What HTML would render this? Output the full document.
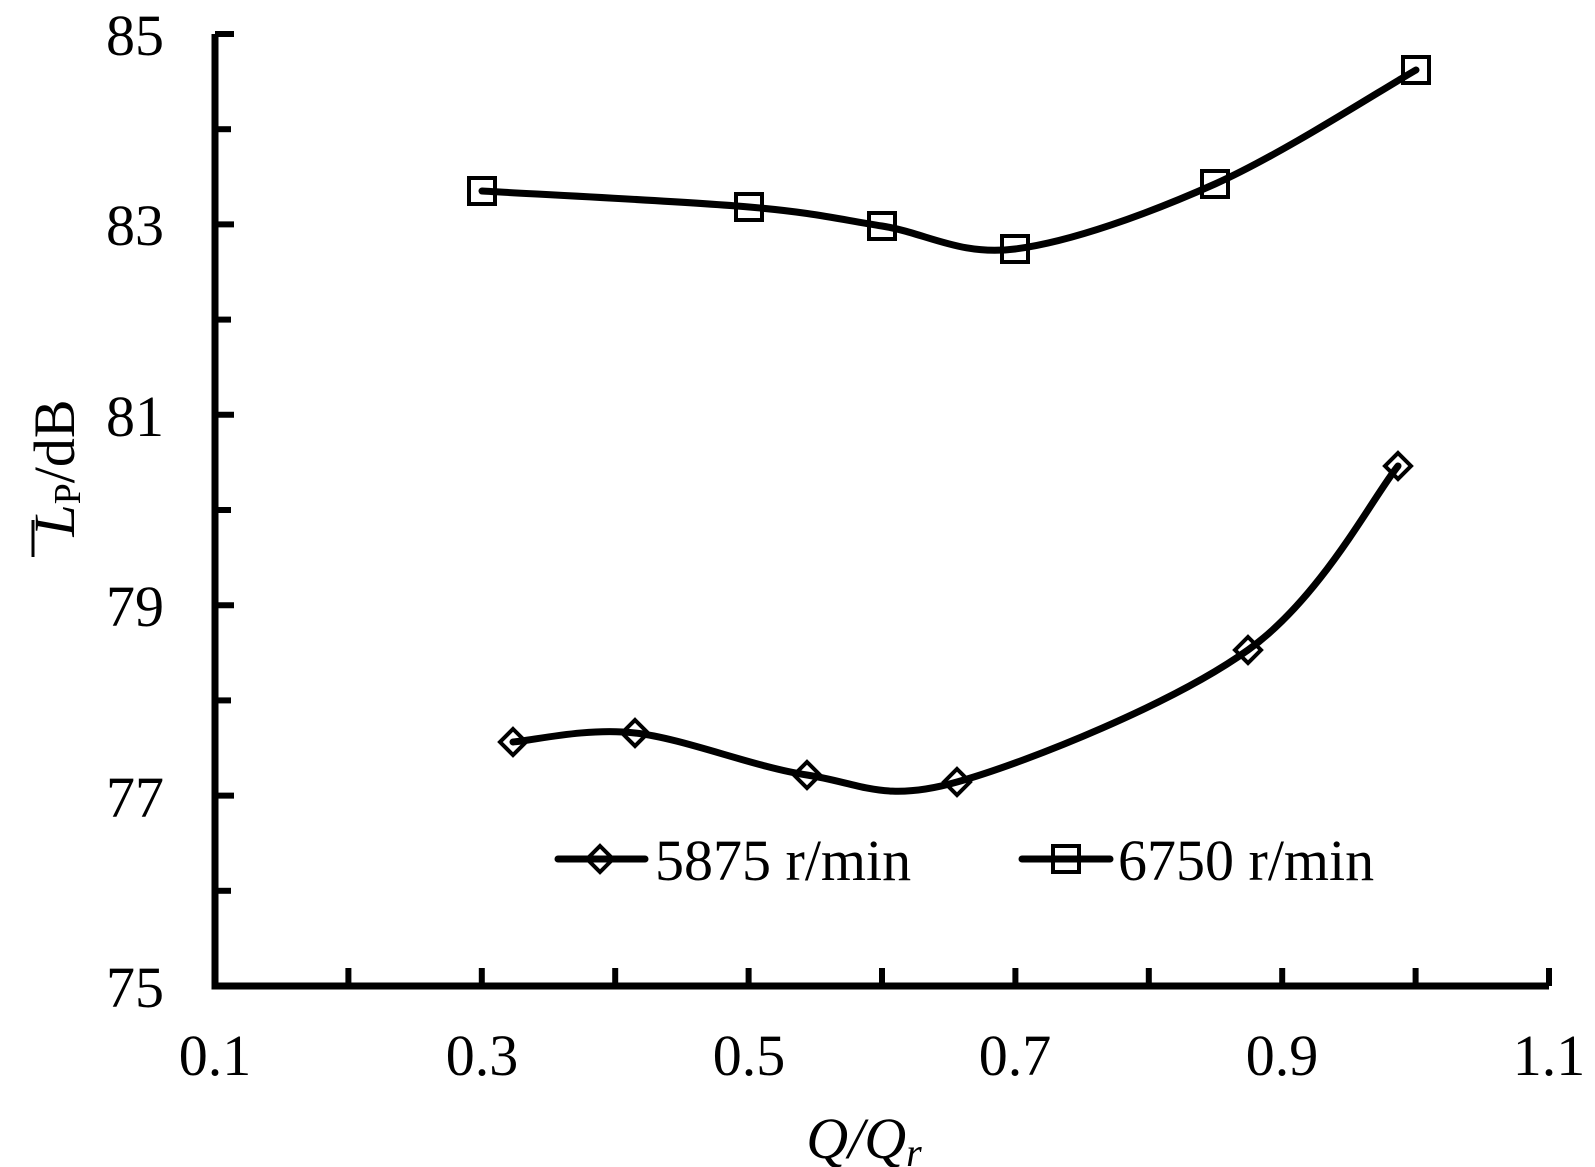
<!DOCTYPE html>
<html><head><meta charset="utf-8"><style>
html,body{margin:0;padding:0;background:#fff;}
svg{display:block;font-family:"Liberation Serif",serif;}
</style></head><body>
<svg id="s" width="1595" height="1167" viewBox="0 0 1595 1167" xmlns="http://www.w3.org/2000/svg">
<g stroke="#000" stroke-width="7" fill="none">
<path d="M215 34 V986 H1549"/>
</g>
<g id="ticks" stroke="#000" stroke-width="6"></g>
<g font-size="58" fill="#000" text-anchor="end">
<text x="164" y="55">85</text>
<text x="164" y="245">83</text>
<text x="164" y="436">81</text>
<text x="164" y="626">79</text>
<text x="164" y="817">77</text>
<text x="164" y="1007">75</text>
</g>
<g font-size="58" fill="#000" text-anchor="middle">
<text x="215" y="1075">0.1</text>
<text x="482" y="1075">0.3</text>
<text x="749" y="1075">0.5</text>
<text x="1015" y="1075">0.7</text>
<text x="1282" y="1075">0.9</text>
<text x="1549" y="1075">1.1</text>
</g>
<text x="864" y="1158" font-size="58" text-anchor="middle" font-style="italic">Q/Q<tspan font-size="40" dy="8">r</tspan></text>
<g transform="translate(74,468) rotate(-90)">
<text x="0" y="0" font-size="58" text-anchor="middle"><tspan font-style="italic">L</tspan><tspan font-size="38" dy="6">P</tspan><tspan dy="-6">/dB</tspan></text>
<line x1="-89" y1="-41" x2="-52" y2="-41" stroke="#000" stroke-width="3"/>
</g>
<g id="curves" stroke="#000" stroke-width="7" fill="none" stroke-linecap="round"></g>
<g id="marks" stroke="#000" stroke-width="4" fill="none"></g>
<g stroke="#000" stroke-width="7" stroke-linecap="round">
<line x1="558" y1="859" x2="645" y2="859"/>
<line x1="1022" y1="859" x2="1110" y2="859"/>
</g>
<g stroke="#000" stroke-width="4" fill="none">
<path d="M600 846 L613 859 L600 872 L587 859 Z"/>
<rect x="1053" y="846" width="26" height="26"/>
</g>
<g font-size="58" fill="#000">
<text x="655" y="880">5875 r/min</text>
<text x="1118" y="880">6750 r/min</text>
</g>
</svg>
<script>
var NS="http://www.w3.org/2000/svg";
function el(t,a,p){var e=document.createElementNS(NS,t);for(var k in a)e.setAttribute(k,a[k]);document.getElementById(p).appendChild(e);}
for(var k=1;k<=10;k++){var x=215+133.4*k;el("line",{x1:x,y1:986,x2:x,y2:968},"ticks");}
for(var v=76;v<=85;v++){var y=34+(85-v)*95.2;el("line",{x1:215,y1:y,x2:(v%2?234:231),y2:y},"ticks");}
function path(P){var d="M"+P[0][0]+" "+P[0][1];for(var i=0;i<P.length-1;i++){var p0=P[i-1]||P[i],p1=P[i],p2=P[i+1],p3=P[i+2]||P[i+1];
var c1=[p1[0]+(p2[0]-p0[0])/6,p1[1]+(p2[1]-p0[1])/6],c2=[p2[0]-(p3[0]-p1[0])/6,p2[1]-(p3[1]-p1[1])/6];
d+=" C"+c1+" "+c2+" "+p2;}return d;}
var A=[[482,191],[749,207],[882,226],[1015,249],[1215,184],[1416,70]];
var B=[[513,742],[635,733],[807,775],[957,782],[1248,650],[1398,466]];
el("path",{d:path(A)},"curves");el("path",{d:path(B)},"curves");
A.forEach(function(p){el("rect",{x:p[0]-13,y:p[1]-13,width:26,height:26},"marks");});
B.forEach(function(p){el("path",{d:"M"+p[0]+" "+(p[1]-13)+" L"+(p[0]+13)+" "+p[1]+" L"+p[0]+" "+(p[1]+13)+" L"+(p[0]-13)+" "+p[1]+" Z"},"marks");});
</script>
</body></html>
